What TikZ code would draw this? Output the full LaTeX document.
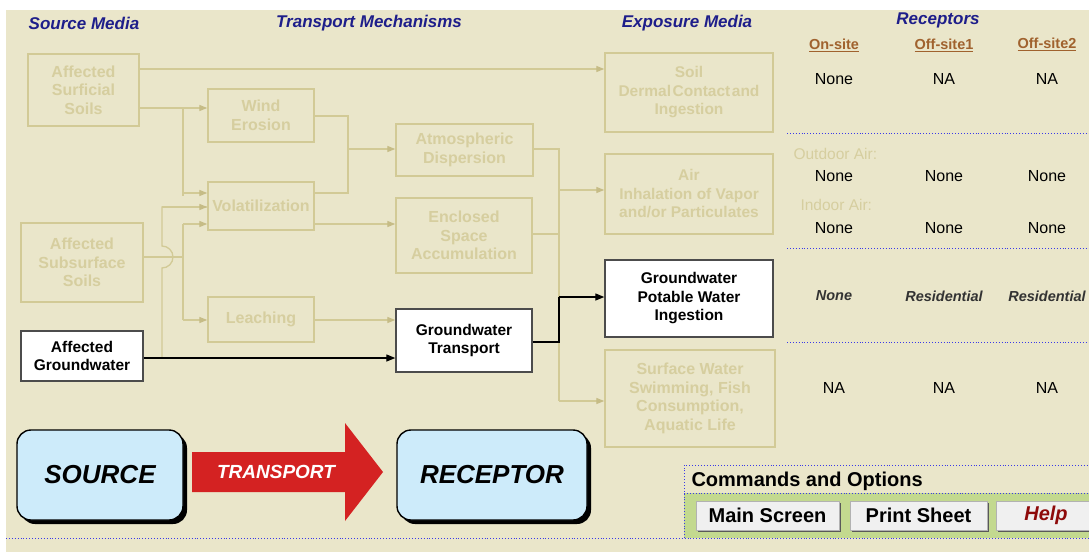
\documentclass[tikz,border=0pt]{standalone}
\usepackage{fontspec}
\setmainfont{Liberation Sans}
\usetikzlibrary{arrows.meta,shadows,calc}
\definecolor{bg}{HTML}{EAE6CA}
\definecolor{fline}{HTML}{D2CA96}
\definecolor{ftext}{HTML}{D6CE9F}
\definecolor{farrow}{HTML}{C6BC86}
\definecolor{navy}{HTML}{1E1E8A}
\definecolor{brownh}{HTML}{A0622E}
\definecolor{dotblue}{HTML}{3A3AE8}
\definecolor{cmdgreen}{HTML}{C3D98F}
\definecolor{boxblue}{HTML}{CDEBFA}
\definecolor{tred}{HTML}{D42222}
\definecolor{helpred}{HTML}{8E0A0A}
\begin{document}
\begin{tikzpicture}[x=1pt,y=-1pt,
 fbox/.style={draw=fline, line width=1.4pt, text=ftext, align=center, inner sep=0pt, font=\fontsize{16}{18.5}\selectfont\bfseries},
 wbox/.style={draw=black!70, fill=white, line width=1.4pt, text=black, align=center, inner sep=0pt, font=\fontsize{15.5}{18.5}\selectfont\bfseries},
 fl/.style={draw=fline, line width=1.3pt},
 fa/.style={fl, -{Triangle[length=8pt,width=6pt,color=farrow,fill=farrow]}},
 ba/.style={draw=black, line width=1.3pt, -{Triangle[length=9pt,width=7pt]}},
 bl/.style={draw=black, line width=1.3pt},
 hdr/.style={text=navy, font=\fontsize{17}{20}\selectfont\bfseries\itshape},
 subh/.style={text=brownh, font=\fontsize{14.5}{17}\selectfont\bfseries},
 val/.style={text=black, font=\fontsize{16}{19}\selectfont},
 ival/.style={text=black!80, font=\fontsize{14.5}{17}\selectfont\bfseries\itshape},
 flab/.style={text=ftext, font=\fontsize{15.5}{18}\selectfont, anchor=west},
 bdot/.style={draw=dotblue, line width=0.9pt, dotted},
 bigbox/.style={draw=black, line width=1.4pt, fill=boxblue, rounded corners=14pt,
   minimum height=90pt, font=\fontsize{26}{30}\selectfont\bfseries\itshape,
   drop shadow={shadow xshift=4pt, shadow yshift=-4pt, fill=black, opacity=1}},
 btn/.style={draw=gray!60, fill=gray!12, line width=0.8pt, minimum height=29pt,
   font=\fontsize{20}{24}\selectfont\bfseries,
   drop shadow={shadow xshift=2pt, shadow yshift=-2pt, fill=gray!70!black, opacity=1}}
]
\useasboundingbox (0,0) rectangle (1089,552);
\fill[white] (0,0) rectangle (1089,552);
\fill[bg] (6,10) rectangle (1089,552);

% headers
\node[hdr] (h1) at (84,23) {Source Media};
\node[hdr] (h2) at (369,23) {Transport Mechanisms};
\node[hdr] (h3) at (687,23) {Exposure Media};
\node[hdr] (h4) at (938,20) {Receptors};
\node[subh] (s1) at (834,45) {\underline{On-site}};
\node[subh] (s2) at (944,45) {\underline{Off-site1}};
\node[subh] (s3) at (1047,44) {\underline{Off-site2}};

% source media
\node[fbox, minimum width=111pt, minimum height=72pt] (surf) at (83.5,90) {Affected\\Surficial\\Soils};
\node[fbox, minimum width=122pt, minimum height=79pt] (subs) at (82,262.5) {Affected\\Subsurface\\Soils};
\node[wbox, minimum width=122pt, minimum height=50pt] (gw) at (82,356) {Affected\\Groundwater};

% transport
\node[fbox, minimum width=106pt, minimum height=53pt] (wind) at (261,115.5) {Wind\\Erosion};
\node[fbox, minimum width=106pt, minimum height=48pt] (vol) at (261,206) {Volatilization};
\node[fbox, minimum width=106pt, minimum height=45pt] (leach) at (261,319.5) {Leaching};
\node[fbox, minimum width=137pt, minimum height=52pt] (atm) at (464.5,150) {Atmospheric\\Dispersion};
\node[fbox, minimum width=136pt, minimum height=75pt] (encl) at (464,235.5) {Enclosed\\Space\\Accumulation};
\node[wbox, minimum width=136pt, minimum height=63pt] (gwt) at (464,340.5) {Groundwater\\Transport};

% exposure
\node[fbox, minimum width=168pt, minimum height=79pt, font=\fontsize{15.5}{18.5}\selectfont\bfseries] (soil) at (689,92.5) {Soil\\Dermal\hspace{0.1em}Contact\hspace{0.1em}and\\Ingestion};
\node[fbox, minimum width=168pt, minimum height=80pt, font=\fontsize{15.5}{18.5}\selectfont\bfseries] (air) at (689,194) {Air\\Inhalation of Vapor\\and/or Particulates};
\node[wbox, minimum width=168pt, minimum height=77pt] (gwp) at (689,298.5) {Groundwater\\Potable Water\\Ingestion};
\node[fbox, minimum width=170pt, minimum height=97pt] (sw) at (690,398.5) {Surface Water\\Swimming, Fish\\Consumption,\\Aquatic Life};

% connectors: surficial soils
\draw[fa] (surf.east |- 0,69) -- (soil.west |- 0,69);
\coordinate (j1) at (183,108);
\coordinate (j1b) at (183,196);
\draw[fa] (surf.east |- 0,108) -- (wind.west |- 0,108);
\draw[fl] (j1) -- (j1b);
\draw[fa] (j1 |- 0,193) -- (vol.west |- 0,193);
% subsurface
\coordinate (j2) at (183,257);
\draw[fl] (subs.east |- 0,257) -- (j2);
\draw[fl] (j2 |- 0,224) -- (j2 |- 0,320);
\draw[fa] (j2 |- 0,224) -- (vol.west |- 0,224);
\draw[fa] (j2 |- 0,320) -- (leach.west |- 0,320);
% groundwater
\coordinate (j3) at (162,358);
\draw[fl] (j3) -- (162,268) arc[start angle=90, end angle=-90, radius=11] -- (162,207) -- (vol.west |- 0,207);
\draw[fa] (162,207) -- (vol.west |- 0,207);
\draw[ba] (gw.east |- 0,358) -- (gwt.west |- 0,358);
% wind / volatilization to atmospheric
\coordinate (j4) at (348,116);
\coordinate (j4b) at (348,193);
\draw[fl] (wind.east |- j4) -- (j4) -- (j4b) -- (vol.east |- j4b);
\draw[fa] (348,149) -- (atm.west |- 0,149);
\draw[fa] (vol.east |- 0,224) -- (encl.west |- 0,224);
\draw[fa] (leach.east |- 0,320) -- (gwt.west |- 0,320);
% to exposure media
\coordinate (j5) at (559,149);
\coordinate (j5b) at (559,401);
\draw[fl] (atm.east |- j5) -- (j5) -- (j5b);
\draw[fl] (encl.east |- 0,234) -- (559,234);
\draw[fa] (559,190) -- (air.west |- 0,190);
\draw[fa] (j5b) -- (sw.west |- j5b);
\draw[bl] (gwt.east |- 0,342) -- (559,342) -- (559,297);
\draw[ba] (559,297) -- (gwp.west |- 0,297);

% receptor table
\node[val] (r11) at (834,79) {None};
\node[val] (r12) at (944,79) {NA};
\node[val] (r13) at (1047,79) {NA};
\draw[bdot] (787,133) -- (1089,133);
\node[flab] (oa) at (790,154) {Outdoor Air:};
\node[val] (r21) at (834,176) {None};
\node[val] (r22) at (944,176) {None};
\node[val] (r23) at (1047,176) {None};
\node[flab] (ia) at (797,205) {Indoor Air:};
\node[val] (r31) at (834,228) {None};
\node[val] (r32) at (944,228) {None};
\node[val] (r33) at (1047,228) {None};
\draw[bdot] (787,248) -- (1089,248);
\node[ival] (r41) at (834,296) {None};
\node[ival] (r42) at (944,296) {Residential};
\node[ival] (r43) at (1047,296) {Residential};
\draw[bdot] (787,342) -- (1089,342);
\node[val] (r51) at (834,388) {NA};
\node[val] (r52) at (944,388) {NA};
\node[val] (r53) at (1047,388) {NA};

% source-transport-receptor
\node[bigbox, minimum width=166pt] (src) at (100,475) {SOURCE};
\fill[tred] (192,452) -- (345,452) -- (345,423) -- (383,472) -- (345,521) -- (345,492) -- (192,492) -- cycle;
\node[text=white, font=\fontsize{19}{22}\selectfont\bfseries\itshape] (tr) at (276,472) {TRANSPORT};
\node[bigbox, minimum width=190pt] (rec) at (492,475) {RECEPTOR};

% commands
\fill[cmdgreen] (684,493) rectangle (1089,538);
\draw[bdot] (6,538) -- (1089,538);
\draw[bdot] (684,538) -- (684,465) -- (1089,465);
\draw[bdot] (684,493) -- (1089,493);
\node[anchor=west, font=\fontsize{20}{24}\selectfont\bfseries] (cmd) at (688,481) {Commands and Options};
\node[btn, minimum width=143pt] (b1) at (767.5,515.5) {Main Screen};
\node[btn, minimum width=137pt] (b2) at (918.5,515.5) {Print Sheet};
\node[btn, minimum width=100pt, text=helpred, font=\fontsize{20}{24}\selectfont\bfseries\itshape] (b3) at (1046,515.5) {Help};
\end{tikzpicture}
\end{document}
